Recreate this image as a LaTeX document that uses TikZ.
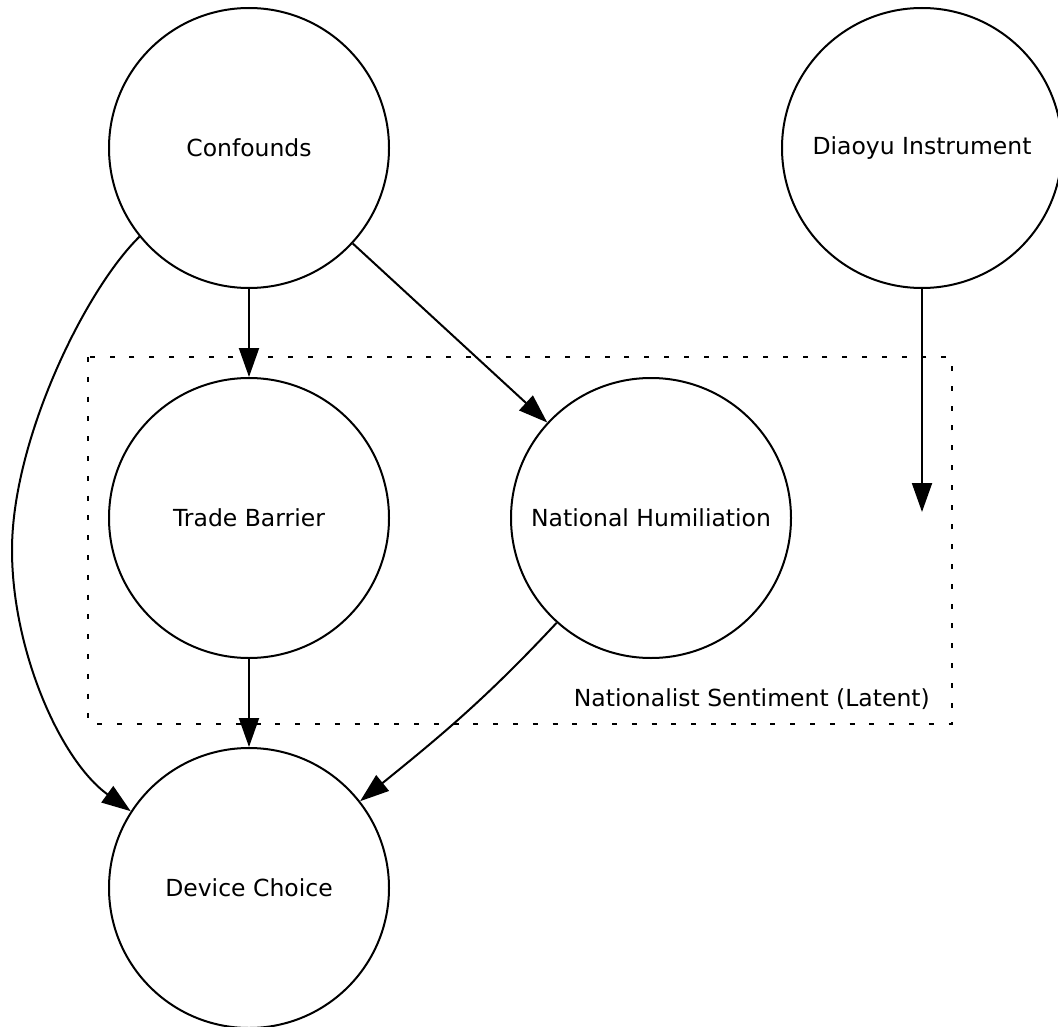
\documentclass[tikz,border=0pt]{standalone}
\usepackage{fontspec}
\setmainfont{DejaVu Sans}
\usetikzlibrary{arrows.meta}
\begin{document}
\begin{tikzpicture}[x=1pt,y=-1pt,
  var/.style={draw,circle,line width=2pt,minimum size=280pt,inner sep=0pt,
    font=\fontsize{23.5}{28}\selectfont},
  edge/.style={line width=2pt,-{Triangle[length=29pt,width=20pt]}},
  clusterline/.style={line width=2pt,dash pattern=on 5pt off 14.8pt},
  clusterlabel/.style={font=\fontsize{23.5}{28}\selectfont,inner sep=0pt,anchor=base east}]
\useasboundingbox (0,0) rectangle (1058,1027);
\draw[clusterline] (88,357) rectangle (952,724);
\node[clusterlabel] (lbl) at (930,706) {Nationalist Sentiment (Latent)};
\node[var] (conf) at (249,148) {Confounds};
\node[var] (dia) at (922,148) {Diaoyu Instrument};
\node[var] (tb) at (249,518) {Trade Barrier};
\node[var] (nh) at (651,518) {National Humiliation};
\node[var] (dev) at (249,888) {Device Choice};
\coordinate (diaend) at (922,512);
\coordinate (c1) at (85,290);
\coordinate (c2) at (12,440);
\coordinate (mid) at (12,550);
\coordinate (c3) at (12,650);
\coordinate (c4) at (60,760);
\draw[edge] (conf) -- (tb);
\draw[edge] (conf) -- (nh);
\draw[edge] (conf.219.6) .. controls (c1) and (c2) .. (mid) .. controls (c3) and (c4) .. (dev.147.4);
\draw[edge] (tb) -- (dev);
\draw[edge] (nh.228) to[out=227,in=39] (dev.38);
\draw[edge] (dia) -- (diaend);
\end{tikzpicture}
\end{document}
